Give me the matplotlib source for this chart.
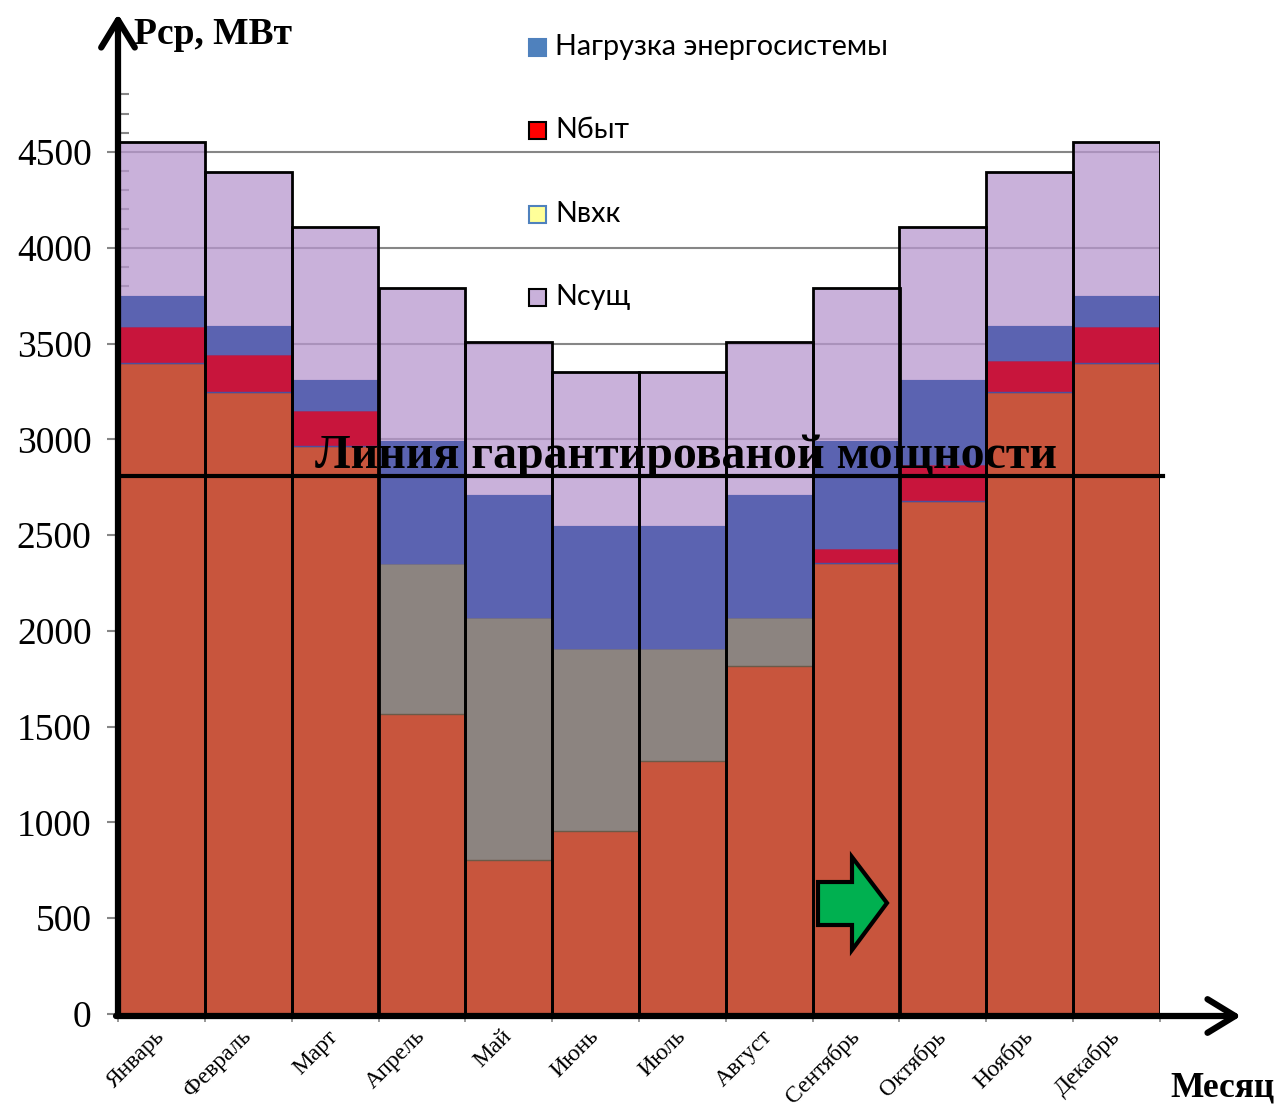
import numpy as np
import matplotlib
matplotlib.use('Agg')
import matplotlib.pyplot as plt
from matplotlib.patches import Polygon, Rectangle

plt.rcParams['font.family'] = ['Liberation Serif', 'DejaVu Serif']

months = ['Январь', 'Февраль', 'Март', 'Апрель', 'Май', 'Июнь',
          'Июль', 'Август', 'Сентябрь', 'Октябрь', 'Ноябрь', 'Декабрь']

# stacked parts of the load, MW
n_base = [3400, 3245, 2965, 1565, 805, 955, 1320, 1815, 2355, 2680, 3245, 3400]
n_grey = [0, 0, 0, 790, 1267, 956, 591, 257, 0, 0, 0, 0]
n_byt = [190, 198, 188, 0, 0, 0, 0, 0, 78, 190, 170, 190]
n_blue = [160, 150, 157, 635, 638, 639, 639, 638, 557, 440, 178, 160]
n_sush = [800, 800, 800, 800, 800, 800, 800, 800, 800, 800, 800, 800]
p_guar = 2810

legend_labels = ['Нагрузка энергосистемы', 'Nбыт', 'Nвхк', 'Nсущ']
legend_colors = ['#4F81BD', '#FF0000', '#FFFF99', '#C9B1DA']
legend_edges = ['#4F81BD', 'black', '#4F81BD', 'black']

W, H = 1284, 1109
fig = plt.figure(figsize=(W / 100, H / 100), dpi=100)
ax = fig.add_axes([118 / W, 1 - 1014 / H, (1160 - 118) / W, (1014 - 94.5) / H])

x = np.arange(len(months))
layers = [
    (n_base, '#C8553D', 'none', 1.0),
    (n_grey, '#8C8480', '#6B5A48', 1.0),
    (n_byt, '#C8153C', '#4B4F9E', 1.0),
    (n_blue, '#5B63B1', '#5B63B1', 1.0),
    (n_sush, '#B797CE', 'none', 0.75),
]
bottom = np.zeros(len(months))
for vals, col, ec, a in layers:
    vals = np.array(vals, dtype=float)
    ax.bar(x, vals, width=1.0, bottom=bottom, color=col, edgecolor=ec,
           linewidth=1.0, alpha=a, zorder=2)
    bottom += vals
# outline of each month column
ax.bar(x, bottom, width=1.0, fill=False, edgecolor='black', linewidth=2, zorder=3)

ax.set_xlim(-0.5, 11.5)
ax.set_ylim(0, 4800)
ax.set_yticks(np.arange(0, 4501, 500))
ax.set_yticks(np.arange(0, 4801, 100), minor=True)
ax.yaxis.grid(True, color='#868686', linewidth=1.5, zorder=0)
ax.set_axisbelow(True)
ax.tick_params(axis='y', which='major', length=8, width=1.5, color='#868686',
               labelsize=27, pad=11)
ax.tick_params(axis='y', which='minor', direction='in', length=8, width=1.5,
               color='#868686')
ax.set_xticks(x)
ax.set_xticklabels(months, rotation=45, ha='right', va='center',
                   rotation_mode='anchor', fontsize=17)
ax.tick_params(axis='x', length=0, pad=14)
ax.set_xticks(np.arange(-0.5, 12, 1), minor=True)
ax.tick_params(axis='x', which='minor', length=6, width=1.2, color='#868686')
for s in ax.spines.values():
    s.set_visible(False)

# guaranteed power line
ax.axhline(p_guar, xmin=0, xmax=1.003, color='black', linewidth=3, zorder=5,
           clip_on=False)
ax.text(6.04, 2850, 'Линия гарантированой мощности', ha='center',
        va='baseline', fontsize=34.5, fontweight='bold', zorder=6)

def fx(px):
    return px / W

def fy(py):
    return 1 - py / H

# axis arrows
arrow = dict(arrowstyle='->,head_length=0.9,head_width=0.55', lw=4.5,
             color='black', shrinkA=0, shrinkB=0, mutation_scale=22)
fig.add_artist(matplotlib.patches.FancyArrowPatch(
    (fx(118), fy(1016)), (fx(118), fy(14)), transform=fig.transFigure, **arrow))
fig.add_artist(matplotlib.patches.FancyArrowPatch(
    (fx(116), fy(1016)), (fx(1241), fy(1016)), transform=fig.transFigure, **arrow))

fig.text(fx(134), fy(35), 'Рср, МВт', fontsize=27, fontweight='bold',
         ha='left', va='center')
fig.text(fx(1170), fy(1088), 'Месяц', fontsize=25.5, fontweight='bold',
         ha='left', va='center')

# legend
leg_y = [47, 130, 214, 297]
for yy, lab, col, ec in zip(leg_y, legend_labels, legend_colors, legend_edges):
    fig.add_artist(Rectangle((fx(529), fy(yy + 9)), 17 / W, 17 / H,
                             transform=fig.transFigure, facecolor=col,
                             edgecolor=ec, linewidth=1.5))
    fig.text(fx(555), fy(yy), lab, fontsize=20.7, family=['Lato', 'DejaVu Sans'],
             ha='left', va='center')

# green arrow
pts = [(818, 882), (852, 882), (852, 857), (887, 903), (852, 950),
       (852, 925), (818, 925)]
fig.add_artist(Polygon([(fx(a), fy(b)) for a, b in pts], closed=True,
                       transform=fig.transFigure, facecolor='#00B050',
                       edgecolor='black', linewidth=3, zorder=10))

fig.savefig('out.png', dpi=100)
